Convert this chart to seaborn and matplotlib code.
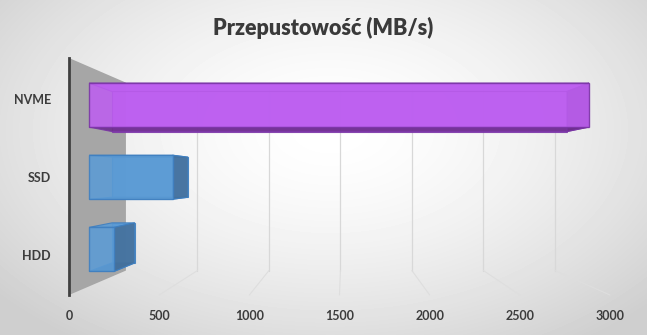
import numpy as np
import pandas as pd
import matplotlib
matplotlib.use("Agg")
import matplotlib.pyplot as plt
import seaborn as sns
from matplotlib.patches import Polygon
from matplotlib.transforms import Affine2D

# ---- data ----
categories = ["NVME", "SSD", "HDD"]
throughput = [2990, 500, 150]
x_ticks = [0, 500, 1000, 1500, 2000, 2500, 3000]
title = "Przepustowość (MB/s)"
bar_colors = ["#bd5ff0", "#5b9bd5", "#5b9bd5"]
side_colors = ["#6c2d8c", "#44709c", "#44709c"]
edge_colors = ["#7a35a5", "#3f7fc0", "#3f7fc0"]

W, H = 647, 335
sns.set_theme(style="white")
plt.rcParams["font.family"] = ["Lato", "DejaVu Sans"]

fig = plt.figure(figsize=(W / 100, H / 100), dpi=100)

# background axes in image-pixel coordinates
bg = fig.add_axes([0, 0, 1, 1])
bg.set_xlim(0, W)
bg.set_ylim(H, 0)
bg.axis("off")
yy, xx = np.mgrid[0:H, 0:W]
r = np.sqrt(((xx - 330) / 430.0) ** 2 + ((yy - 130) / 260.0) ** 2)
g = 1 - 0.19 * np.clip(r, 0, 1) ** 1.6
bg.imshow(g, cmap="gray", vmin=0, vmax=1, extent=(0, W, H, 0), aspect="auto", zorder=0)

# perspective
VX, VY = 344.0, 177.0
K_WALL, K_FRONT, K_BACK = 0.793, 0.927, 0.844


def proj(pt, k):
    return (VX + k * (pt[0] - VX), VY + k * (pt[1] - VY))


# front plane axes
L, R, T, B = 69, 610, 58, 295
ax = fig.add_axes([L / W, 1 - B / H, (R - L) / W, (B - T) / H])
ax.patch.set_alpha(0)
ax.set_zorder(2)

df = pd.DataFrame({"device": categories, "mbps": throughput})
sns.barplot(data=df, x="mbps", y="device", hue="device", palette=bar_colors,
            width=0.61, legend=False, ax=ax, orient="h", saturation=1)
ax.set_xlim(0, 3000)
ax.set_ylim(2.513, -0.532)
ax.set_xticks(x_ticks)
ax.set_xticklabels([str(t) for t in x_ticks])
ax.set_xlabel("")
ax.set_ylabel("")
for s in ["top", "right", "bottom"]:
    ax.spines[s].set_visible(False)
ax.spines["left"].set_color("#404040")
ax.spines["left"].set_linewidth(2)
ax.tick_params(axis="y", length=0, pad=13, labelsize=9, labelcolor="#3c3c3c")
ax.tick_params(axis="x", length=0, pad=11, labelsize=9, labelcolor="#3c3c3c")
for lab in ax.get_xticklabels() + ax.get_yticklabels():
    lab.set_fontweight("bold")


def to_img(x, y):
    d = ax.transData.transform((x, y))
    return (d[0], H - d[1])


# walls
wall = [(L, T), proj((L, T), K_WALL), proj((L, B), K_WALL), (L, B)]
bg.add_patch(Polygon(wall, closed=True, facecolor="#a6a6a6", edgecolor="none", zorder=1))
for t in x_ticks[1:]:
    ft = to_img(t, ax.get_ylim()[1])
    fb = to_img(t, ax.get_ylim()[0])
    bt = proj(ft, K_WALL)
    bb = proj(fb, K_WALL)
    bg.plot([bt[0], bb[0]], [bt[1], bb[1]], color="#d8d8d8", lw=0.9, zorder=1)
    bg.plot([bb[0], fb[0]], [bb[1], fb[1]], color="#dedede", lw=0.8, zorder=1)

# 3D bars
disp_V = (VX, H - VY)
aff = Affine2D().translate(-disp_V[0], -disp_V[1]).scale(K_FRONT).translate(*disp_V)
for i, p in enumerate(ax.patches):
    x0, y0, w, h = p.get_x(), p.get_y(), p.get_width(), p.get_height()
    c = [to_img(x0, y0), to_img(x0 + w, y0), to_img(x0 + w, y0 + h), to_img(x0, y0 + h)]
    fr = [proj(q, K_FRONT) for q in c]
    bk = [proj(q, K_BACK) for q in c]
    ec = edge_colors[i]
    bg.add_patch(Polygon(bk, closed=True, facecolor=bar_colors[i], alpha=0.85,
                         edgecolor=ec, lw=0.8, zorder=3))
    faces = [
        ([fr[0], fr[1], bk[1], bk[0]], bar_colors[i]),
        ([fr[3], fr[2], bk[2], bk[3]], side_colors[i]),
        ([fr[1], fr[2], bk[2], bk[1]], side_colors[i]),
    ]
    for poly, col in faces:
        bg.add_patch(Polygon(poly, closed=True, facecolor=col, alpha=0.9,
                             edgecolor=ec, lw=0.8, zorder=4))
    p.set_transform(ax.transData + aff)
    p.set_alpha(0.88)
    p.set_edgecolor(ec)
    p.set_linewidth(1.0)

fig.text(323 / W, 1 - 28 / H, title, ha="center", va="center", fontsize=15.5,
         fontweight="heavy", color="#3a3a3a")

fig.savefig("out.png", dpi=100)
